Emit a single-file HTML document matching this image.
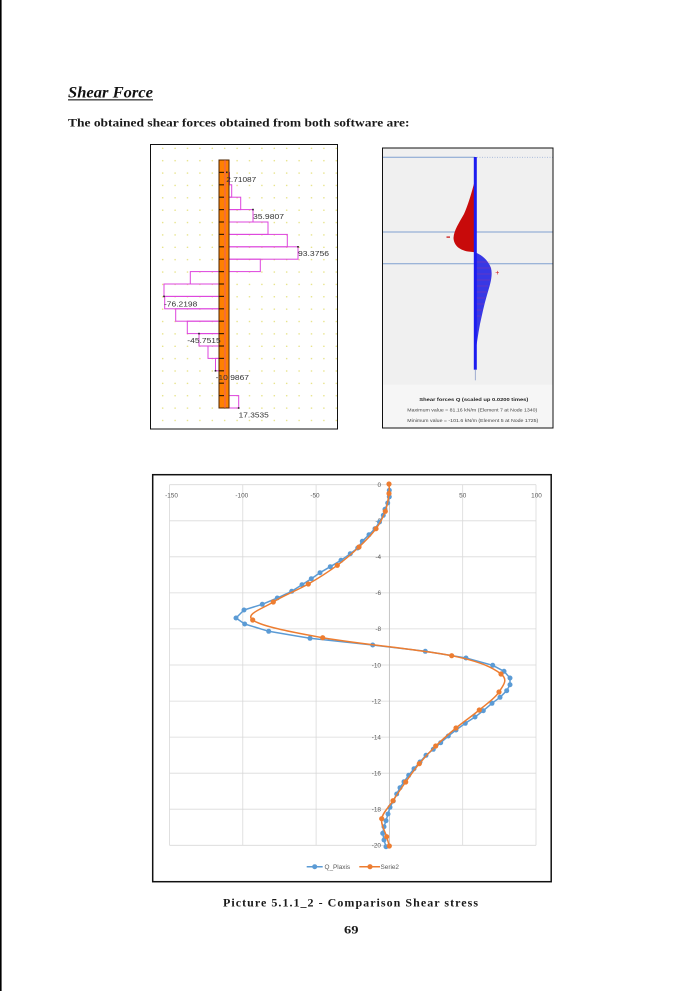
<!DOCTYPE html>
<html>
<head>
<meta charset="utf-8">
<style>
  html,body{margin:0;padding:0;background:#fff;}
  svg{display:block;}
</style>
</head>
<body>
<svg width="700" height="991" viewBox="0 0 700 991" xmlns="http://www.w3.org/2000/svg">
  <defs>
    <pattern id="dots" patternUnits="userSpaceOnUse" x="156.5" y="154.5" width="12.4" height="12.37">
      <circle cx="6.2" cy="6.2" r="0.75" fill="#e4e07a"/>
    </pattern>
  </defs>
  <rect width="700" height="991" fill="#fff"/>
  <rect x="0" y="0" width="1.6" height="991" fill="#000"/>

  <!-- Title -->
  <text x="68" y="97.5" font-family="Liberation Serif, serif" font-size="15.5" font-weight="bold" font-style="italic" fill="#111" textLength="85" lengthAdjust="spacingAndGlyphs">Shear Force</text>
  <rect x="68" y="99.3" width="85" height="1.1" fill="#111"/>
  <text x="68" y="126.6" font-family="Liberation Serif, serif" font-size="12" font-weight="bold" fill="#1a1a1a" textLength="341.5" lengthAdjust="spacingAndGlyphs">The obtained shear forces obtained from both software are:</text>

  <!-- Left image -->
  <rect x="150.5" y="144.5" width="187" height="284.5" fill="#fff" stroke="#111" stroke-width="1"/>
  <rect x="151" y="145" width="186" height="283.5" fill="url(#dots)"/>
  <g fill="none" stroke="#dd44dd" stroke-width="1">
    <rect x="225" y="160" width="1.5" height="12.4"/>
    <rect x="225" y="172.4" width="4.5" height="12.4"/>
    <rect x="225" y="184.8" width="6.7" height="12.4"/>
    <rect x="225" y="197.2" width="15.7" height="12.4"/>
    <rect x="225" y="209.6" width="28" height="12.4"/>
    <rect x="225" y="222" width="43" height="12.4"/>
    <rect x="225" y="234.4" width="62.3" height="12.4"/>
    <rect x="225" y="246.8" width="73" height="12.4"/>
    <rect x="225" y="259.2" width="35.3" height="12.4"/>
    <rect x="190.3" y="271.6" width="34.7" height="12.4"/>
    <rect x="164" y="284" width="61" height="12.4"/>
    <rect x="164.7" y="296.4" width="60.3" height="12.4"/>
    <rect x="175.7" y="308.8" width="49.3" height="12.4"/>
    <rect x="187.3" y="321.2" width="37.7" height="12.4"/>
    <rect x="199" y="333.6" width="26" height="12.4"/>
    <rect x="208" y="346" width="17" height="12.4"/>
    <rect x="215.5" y="358.4" width="9.5" height="12.4"/>
    <rect x="219" y="370.8" width="6" height="12.4"/>
    <rect x="225" y="383.2" width="4" height="12.4"/>
    <rect x="225" y="395.6" width="13.7" height="12.4"/>
  </g>
  <!-- pile -->
  <rect x="219" y="160" width="10" height="248" fill="#ff8000" stroke="#4d2600" stroke-width="1"/>
  <line x1="225" y1="160" x2="225" y2="408" stroke="#e0509a" stroke-width="0.7"/>
  <g stroke="#3a1c00" stroke-width="1.2">
    <line x1="219" y1="172.4" x2="224" y2="172.4"/><line x1="219" y1="184.8" x2="224" y2="184.8"/>
    <line x1="219" y1="197.2" x2="224" y2="197.2"/><line x1="219" y1="209.6" x2="224" y2="209.6"/>
    <line x1="219" y1="222" x2="224" y2="222"/><line x1="219" y1="234.4" x2="224" y2="234.4"/>
    <line x1="219" y1="246.8" x2="224" y2="246.8"/><line x1="219" y1="259.2" x2="224" y2="259.2"/>
    <line x1="219" y1="271.6" x2="224" y2="271.6"/><line x1="219" y1="284" x2="224" y2="284"/>
    <line x1="219" y1="296.4" x2="224" y2="296.4"/><line x1="219" y1="308.8" x2="224" y2="308.8"/>
    <line x1="219" y1="321.2" x2="224" y2="321.2"/><line x1="219" y1="333.6" x2="224" y2="333.6"/>
    <line x1="219" y1="346" x2="224" y2="346"/><line x1="219" y1="358.4" x2="224" y2="358.4"/>
    <line x1="219" y1="370.8" x2="224" y2="370.8"/><line x1="219" y1="383.2" x2="224" y2="383.2"/>
    <line x1="219" y1="395.6" x2="224" y2="395.6"/>
  </g>
  <g fill="#222">
    <rect x="226" y="171.5" width="1.6" height="1.6"/>
    <rect x="252.2" y="208.8" width="1.6" height="1.6"/>
    <rect x="297.2" y="246" width="1.6" height="1.6"/>
    <rect x="163.2" y="295.6" width="1.6" height="1.6"/>
    <rect x="198.2" y="332.8" width="1.6" height="1.6"/>
    <rect x="214.7" y="370" width="1.6" height="1.6"/>
    <rect x="237.9" y="407.2" width="1.6" height="1.6"/>
  </g>
  <g font-family="Liberation Sans, sans-serif" font-size="7.6" fill="#333">
    <text x="226.3" y="181.8" textLength="30" lengthAdjust="spacingAndGlyphs">2.71087</text>
    <text x="253" y="219.1" textLength="31" lengthAdjust="spacingAndGlyphs">35.9807</text>
    <text x="298" y="255.8" textLength="31" lengthAdjust="spacingAndGlyphs">93.3756</text>
    <text x="164" y="306.5" textLength="33.3" lengthAdjust="spacingAndGlyphs">-76.2198</text>
    <text x="187.3" y="343.1" textLength="33.4" lengthAdjust="spacingAndGlyphs">-45.7515</text>
    <text x="215.7" y="380.1" textLength="33.3" lengthAdjust="spacingAndGlyphs">-10.9867</text>
    <text x="238.7" y="417.5" textLength="30" lengthAdjust="spacingAndGlyphs">17.3535</text>
  </g>

  <!-- Right image -->
  <rect x="382.5" y="148" width="170.5" height="280" fill="#f0f0f0" stroke="#111" stroke-width="1"/>
  <rect x="383" y="384.7" width="169.5" height="42.8" fill="#f6f6f6"/>
  <line x1="383" y1="157.3" x2="475" y2="157.3" stroke="#7f9fd0" stroke-width="1"/>
  <line x1="477" y1="157.3" x2="552.5" y2="157.3" stroke="#9fb4d8" stroke-width="0.8" stroke-dasharray="1,1.5"/>
  <line x1="383" y1="232" x2="552.5" y2="232" stroke="#7f9fd0" stroke-width="1"/>
  <line x1="383" y1="263.7" x2="552.5" y2="263.7" stroke="#7f9fd0" stroke-width="1"/>
  <path d="M475,180 C471,195 468,205 464,214 C459,223 454,230 453.5,238 C454,246 460,250 468,251.5 L475,252.3 Z" fill="#c80a0a"/>
  <path d="M475,252.3 C482,255 488,260 491,268 C493,276 490,285 487,295 C484,305 482,315 480,324 C478,334 477,344 475,353 Z" fill="#3838e4"/>
  <g stroke="#e0306a" stroke-width="0.4" opacity="0.6">
    <line x1="476" y1="262" x2="490" y2="262"/><line x1="476" y1="268" x2="491" y2="268"/>
    <line x1="476" y1="274" x2="491" y2="274"/><line x1="476" y1="280" x2="490" y2="280"/>
    <line x1="476" y1="286" x2="488" y2="286"/><line x1="476" y1="292" x2="487" y2="292"/>
    <line x1="476" y1="298" x2="485" y2="298"/><line x1="476" y1="304" x2="484" y2="304"/>
    <line x1="476" y1="310" x2="482" y2="310"/><line x1="476" y1="316" x2="481" y2="316"/>
  </g>
  <rect x="473.8" y="157" width="3" height="212.7" fill="#1c1cf0"/>
  <line x1="475.3" y1="369.7" x2="475.3" y2="380.3" stroke="#8a9ac8" stroke-width="0.8"/>
  <rect x="446.5" y="236.5" width="3.5" height="1.2" fill="#c80a0a"/>
  <text x="497.3" y="275.2" font-family="Liberation Sans, sans-serif" font-size="7" fill="#d01010" text-anchor="middle">+</text>
  <text x="473.8" y="400.8" font-family="Liberation Sans, sans-serif" font-size="4.6" font-weight="bold" fill="#222" text-anchor="middle" textLength="109" lengthAdjust="spacingAndGlyphs">Shear forces Q (scaled up 0.0200 times)</text>
  <text x="407.3" y="411.3" font-family="Liberation Sans, sans-serif" font-size="4.3" fill="#444" textLength="130" lengthAdjust="spacingAndGlyphs">Maximum value = 81.16 kN/m (Element 7 at Node 1340)</text>
  <text x="407.3" y="421.9" font-family="Liberation Sans, sans-serif" font-size="4.3" fill="#444" textLength="131" lengthAdjust="spacingAndGlyphs">Minimum value = -101.6 kN/m (Element 5 at Node 1725)</text>

  <!-- Chart -->
  <rect x="152.7" y="474.7" width="398.5" height="407" fill="#fff" stroke="#111" stroke-width="1.5"/>
  <g stroke="#d9d9d9" stroke-width="0.8">
    <line x1="169.5" y1="484.7" x2="536" y2="484.7"/>
    <line x1="169.5" y1="520.8" x2="536" y2="520.8"/>
    <line x1="169.5" y1="556.8" x2="536" y2="556.8"/>
    <line x1="169.5" y1="592.9" x2="536" y2="592.9"/>
    <line x1="169.5" y1="628.9" x2="536" y2="628.9"/>
    <line x1="169.5" y1="665" x2="536" y2="665"/>
    <line x1="169.5" y1="701.1" x2="536" y2="701.1"/>
    <line x1="169.5" y1="737.1" x2="536" y2="737.1"/>
    <line x1="169.5" y1="773.2" x2="536" y2="773.2"/>
    <line x1="169.5" y1="809.2" x2="536" y2="809.2"/>
    <line x1="169.5" y1="845.3" x2="536" y2="845.3"/>
    <line x1="169.5" y1="484.7" x2="169.5" y2="845.3"/>
    <line x1="242.8" y1="484.7" x2="242.8" y2="845.3"/>
    <line x1="316.1" y1="484.7" x2="316.1" y2="845.3"/>
    <line x1="462.7" y1="484.7" x2="462.7" y2="845.3"/>
    <line x1="536" y1="484.7" x2="536" y2="845.3"/>
  </g>
  <line x1="389.4" y1="484.7" x2="389.4" y2="845.3" stroke="#bfbfbf" stroke-width="0.9"/>
  <g font-family="Liberation Sans, sans-serif" font-size="6.4" fill="#595959" text-anchor="middle">
    <text x="171.5" y="497.5">-150</text>
    <text x="241.8" y="497.5">-100</text>
    <text x="315" y="497.5">-50</text>
    <text x="389.4" y="497.5">0</text>
    <text x="462.7" y="497.5">50</text>
    <text x="536.5" y="497.5">100</text>
  </g>
  <g font-family="Liberation Sans, sans-serif" font-size="6.4" fill="#595959" text-anchor="end">
    <text x="381" y="487">0</text>
    <text x="381" y="523.1">-2</text>
    <text x="381" y="559.1">-4</text>
    <text x="381" y="595.2">-6</text>
    <text x="381" y="631.2">-8</text>
    <text x="381" y="667.3">-10</text>
    <text x="381" y="703.4">-12</text>
    <text x="381" y="739.4">-14</text>
    <text x="381" y="775.5">-16</text>
    <text x="381" y="811.5">-18</text>
    <text x="381" y="847.6">-20</text>
  </g>

  <!-- Blue series -->
  <polyline fill="none" stroke="#5b9bd5" stroke-width="1.5" stroke-linejoin="round" points="389.3,490.3 389.3,496.8 387.7,503 385,509.3 383.3,515.3 379.5,522 375,528.7 369,534.7 362.3,541.3 357.7,548 350.3,553.7 341,560.3 330.3,566.7 320,572.7 311.3,578.7 302,584.7 291.7,591.3 277.3,598 262.3,604.3 244,610 236,618 244.7,624 268.7,631.3 310,638.3 372.7,645 425.3,651.3 466,658 492.7,665.3 504,671.3 510,678 510,684.7 506.7,690.7 500,697.3 492,703.3 483.3,710.7 475,717 465.3,723.3 456,730 448.3,736 440.7,742.7 433.3,749.3 426,755.3 420,762 414,768.7 408.7,775.3 404,781.7 400,787.7 396.7,794 393.3,801 390,807.3 388,814 386,820.7 384,826.7 382.7,833.3 384,840 386,846.7"/>
  <g fill="#5b9bd5">
    <circle cx="389.3" cy="490.3" r="2.5"/><circle cx="389.3" cy="496.8" r="2.5"/><circle cx="387.7" cy="503" r="2.5"/><circle cx="385" cy="509.3" r="2.5"/><circle cx="383.3" cy="515.3" r="2.5"/><circle cx="379.5" cy="522" r="2.5"/><circle cx="375" cy="528.7" r="2.5"/><circle cx="369" cy="534.7" r="2.5"/><circle cx="362.3" cy="541.3" r="2.5"/><circle cx="357.7" cy="548" r="2.5"/><circle cx="350.3" cy="553.7" r="2.5"/><circle cx="341" cy="560.3" r="2.5"/><circle cx="330.3" cy="566.7" r="2.5"/><circle cx="320" cy="572.7" r="2.5"/><circle cx="311.3" cy="578.7" r="2.5"/><circle cx="302" cy="584.7" r="2.5"/><circle cx="291.7" cy="591.3" r="2.5"/><circle cx="277.3" cy="598" r="2.5"/><circle cx="262.3" cy="604.3" r="2.5"/><circle cx="244" cy="610" r="2.5"/><circle cx="236" cy="618" r="2.5"/><circle cx="244.7" cy="624" r="2.5"/><circle cx="268.7" cy="631.3" r="2.5"/><circle cx="310" cy="638.3" r="2.5"/><circle cx="372.7" cy="645" r="2.5"/><circle cx="425.3" cy="651.3" r="2.5"/><circle cx="466" cy="658" r="2.5"/><circle cx="492.7" cy="665.3" r="2.5"/><circle cx="504" cy="671.3" r="2.5"/><circle cx="510" cy="678" r="2.5"/><circle cx="510" cy="684.7" r="2.5"/><circle cx="506.7" cy="690.7" r="2.5"/><circle cx="500" cy="697.3" r="2.5"/><circle cx="492" cy="703.3" r="2.5"/><circle cx="483.3" cy="710.7" r="2.5"/><circle cx="475" cy="717" r="2.5"/><circle cx="465.3" cy="723.3" r="2.5"/><circle cx="456" cy="730" r="2.5"/><circle cx="448.3" cy="736" r="2.5"/><circle cx="440.7" cy="742.7" r="2.5"/><circle cx="433.3" cy="749.3" r="2.5"/><circle cx="426" cy="755.3" r="2.5"/><circle cx="420" cy="762" r="2.5"/><circle cx="414" cy="768.7" r="2.5"/><circle cx="408.7" cy="775.3" r="2.5"/><circle cx="404" cy="781.7" r="2.5"/><circle cx="400" cy="787.7" r="2.5"/><circle cx="396.7" cy="794" r="2.5"/><circle cx="393.3" cy="801" r="2.5"/><circle cx="390" cy="807.3" r="2.5"/><circle cx="388" cy="814" r="2.5"/><circle cx="386" cy="820.7" r="2.5"/><circle cx="384" cy="826.7" r="2.5"/><circle cx="382.7" cy="833.3" r="2.5"/><circle cx="384" cy="840" r="2.5"/><circle cx="386" cy="846.7" r="2.5"/>
  </g>

  <!-- Orange series -->
  <path fill="none" stroke="#ed7d31" stroke-width="1.5" d="M389,484 C389,485.58 389.62,488.95 389,493.5 C388.38,498.05 387.47,505.43 385.3,511.3 C383.13,517.17 380.38,522.75 376,528.7 C371.62,534.65 365.45,540.9 359,547 C352.55,553.1 345.75,559.13 337.3,565.3 C328.85,571.47 318.97,577.88 308.3,584 C297.63,590.12 282.57,596 273.3,602 C264.03,608 244.47,614.05 252.7,620 C260.93,625.95 289.53,631.75 322.7,637.7 C355.87,643.65 421.98,649.65 451.7,655.7 C481.42,661.75 493.12,667.95 501,674 C508.88,680.05 502.62,686 499,692 C495.38,698 486.47,704 479.3,710 C472.13,716 463.27,722 456,728 C448.73,734 441.82,740.05 435.7,746 C429.58,751.95 424.3,757.7 419.3,763.7 C414.3,769.7 410.08,775.83 405.7,782 C401.32,788.17 397,794.58 393,800.7 C389,806.82 382.75,812.7 381.7,818.7 C380.65,824.7 385.43,832.15 386.7,836.7 C387.97,841.25 388.87,844.45 389.3,846"/>
  <g fill="#ed7d31">
    <circle cx="389" cy="484" r="2.6"/><circle cx="389" cy="493.5" r="2.6"/><circle cx="385.3" cy="511.3" r="2.6"/><circle cx="376" cy="528.7" r="2.6"/><circle cx="359" cy="547" r="2.6"/><circle cx="337.3" cy="565.3" r="2.6"/><circle cx="308.3" cy="584" r="2.6"/><circle cx="273.3" cy="602" r="2.6"/><circle cx="252.7" cy="620" r="2.6"/><circle cx="322.7" cy="637.7" r="2.6"/><circle cx="451.7" cy="655.7" r="2.6"/><circle cx="501" cy="674" r="2.6"/><circle cx="499" cy="692" r="2.6"/><circle cx="479.3" cy="710" r="2.6"/><circle cx="456" cy="728" r="2.6"/><circle cx="435.7" cy="746" r="2.6"/><circle cx="419.3" cy="763.7" r="2.6"/><circle cx="405.7" cy="782" r="2.6"/><circle cx="393" cy="800.7" r="2.6"/><circle cx="381.7" cy="818.7" r="2.6"/><circle cx="386.7" cy="836.7" r="2.6"/><circle cx="389.3" cy="846" r="2.6"/>
  </g>

  <!-- Legend -->
  <line x1="306.7" y1="866.7" x2="322.7" y2="866.7" stroke="#5b9bd5" stroke-width="1.5"/>
  <circle cx="314.7" cy="866.7" r="2.5" fill="#5b9bd5"/>
  <text x="324.5" y="869" font-family="Liberation Sans, sans-serif" font-size="6.4" fill="#595959">Q_Plaxis</text>
  <line x1="359.3" y1="866.7" x2="380" y2="866.7" stroke="#ed7d31" stroke-width="1.5"/>
  <circle cx="370" cy="866.7" r="2.6" fill="#ed7d31"/>
  <text x="380.5" y="869" font-family="Liberation Sans, sans-serif" font-size="6.4" fill="#595959">Serie2</text>

  <!-- Caption -->
  <text x="223" y="906.3" font-family="Liberation Serif, serif" font-size="12" font-weight="bold" fill="#1a1a1a" textLength="255" lengthAdjust="spacing">Picture 5.1.1_2  - Comparison Shear stress</text>
  <text x="344" y="933.5" font-family="Liberation Serif, serif" font-size="11.5" font-weight="bold" fill="#1a1a1a" textLength="14.5" lengthAdjust="spacingAndGlyphs">69</text>
</svg>
</body>
</html>
